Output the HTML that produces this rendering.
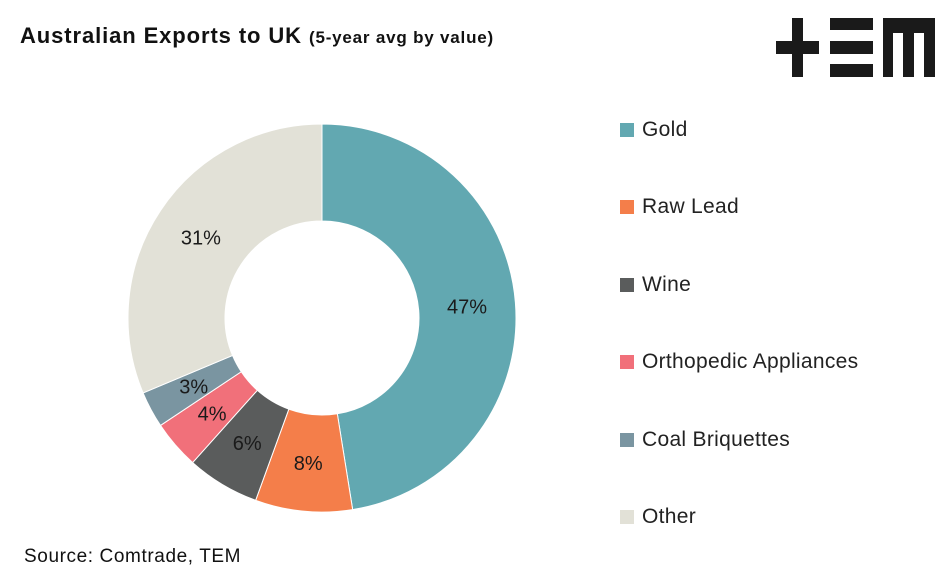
<!DOCTYPE html>
<html><head><meta charset="utf-8"><style>
body{margin:0;background:#fff;font-family:"Liberation Sans",sans-serif;}
#wrap{position:relative;width:949px;height:581px;overflow:hidden;}
.title{position:absolute;left:20px;top:23px;font-size:22px;letter-spacing:0.9px;font-weight:bold;color:#111;white-space:nowrap;}
.title span{font-size:17px;letter-spacing:0.8px;}
.src{position:absolute;left:24px;top:546px;font-size:19px;letter-spacing:0.6px;color:#111;}
.leg{position:absolute;left:620px;font-size:21px;letter-spacing:0.3px;color:#222;display:flex;align-items:center;white-space:nowrap;}
.leg i{display:inline-block;width:14px;height:14px;margin-right:8px;}
</style></head><body>
<div id="wrap">
<div class="title">Australian Exports to UK <span>(5-year avg by value)</span></div>
<svg width="949" height="581" style="position:absolute;left:0;top:0">
<g id="logo" fill="#1a1a1a">
<rect x="792" y="18" width="11" height="59"/><rect x="776" y="41" width="43" height="13"/>
<rect x="830" y="18" width="43" height="12"/><rect x="830" y="41" width="43" height="13"/><rect x="830" y="64" width="43" height="13"/>
<path d="M883 18H935V77H924V33H914V77H903V33H893V77H883Z"/>
</g>
<g id="slices"></g>
</svg>
<div id="legend"></div>
<div class="src">Source: Comtrade, TEM</div>
</div>
<script>
const categories=["Gold","Raw Lead","Wine","Orthopedic Appliances","Coal Briquettes","Other"];
const values=[47,8,6,4,3,31];
const colors=["#62a8b1","#f47e4a","#5a5c5c","#f1707a","#7a95a1","#e2e1d7"];
const cx=322,cy=318,R=194,r=97;
const g=document.getElementById('slices');
const total=values.reduce((a,b)=>a+b,0);
let a0=0;
function pt(rad,a){return [cx+rad*Math.sin(a),cy-rad*Math.cos(a)];}
values.forEach((v,i)=>{
  const a1=a0+v/total*2*Math.PI;
  const [x1,y1]=pt(R,a0),[x2,y2]=pt(R,a1),[x3,y3]=pt(r,a1),[x4,y4]=pt(r,a0);
  const lg=(a1-a0)>Math.PI?1:0;
  const p=document.createElementNS('http://www.w3.org/2000/svg','path');
  p.setAttribute('d',`M${x1},${y1}A${R},${R} 0 ${lg} 1 ${x2},${y2}L${x3},${y3}A${r},${r} 0 ${lg} 0 ${x4},${y4}Z`);
  p.setAttribute('fill',colors[i]);p.setAttribute('stroke','#fff');p.setAttribute('stroke-width','1');
  
  
  g.appendChild(p);
  const [tx,ty]=pt((R+r)/2,(a0+a1)/2);
  const t=document.createElementNS('http://www.w3.org/2000/svg','text');
  t.setAttribute('x',tx);t.setAttribute('y',ty+7);t.setAttribute('text-anchor','middle');
  t.setAttribute('font-size','20');t.setAttribute('fill','#1a1a1a');t.setAttribute('font-family','Liberation Sans, sans-serif');
  t.textContent=v+'%';
  
  
  g.appendChild(t);
  a0=a1;
});
const lg=document.getElementById('legend');
categories.forEach((c,i)=>{
  const d=document.createElement('div');d.className='leg';d.style.top=(118+i*77.4)+'px';
  d.innerHTML=`<i style="background:${colors[i]}"></i>${c}`;
  
  
  lg.appendChild(d);
});
</script>
</body></html>
